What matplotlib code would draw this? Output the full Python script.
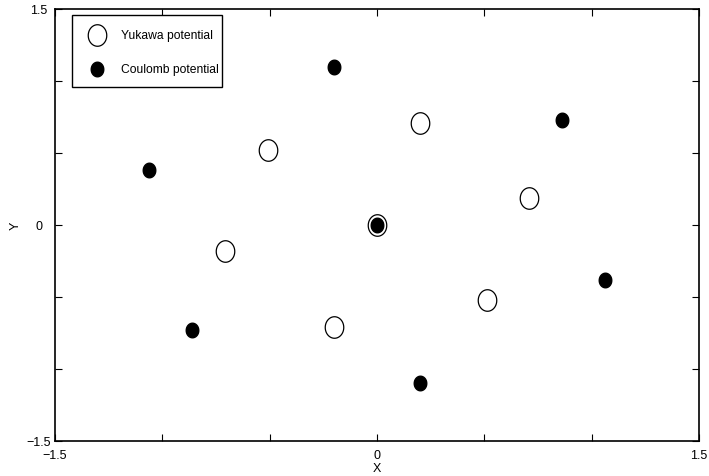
import numpy as np
import matplotlib
matplotlib.use("Agg")
import matplotlib.pyplot as plt
from matplotlib.path import Path
from matplotlib.patches import Rectangle

plt.rcParams['font.family'] = ['Liberation Sans', 'DejaVu Sans']

# Yukawa potential: inner ring plus centre
yukawa_x = [0.0, 0.20, -0.51, 0.71, -0.71, 0.51, -0.20]
yukawa_y = [0.0, 0.71, 0.52, 0.19, -0.18, -0.52, -0.71]

# Coulomb potential: outer ring plus centre
coulomb_x = [0.0, -0.20, 0.86, -1.06, 1.06, -0.86, 0.20]
coulomb_y = [0.0, 1.10, 0.73, 0.38, -0.38, -0.73, -1.10]

series_names = ['Yukawa potential', 'Coulomb potential']

tick_vals = [-1.5, -1.0, -0.5, 0.0, 0.5, 1.0, 1.5]
tick_labels = ['\u22121.5', '', '', '0', '', '', '1.5']

# slightly tall ellipse used as marker
t = np.linspace(0, 2 * np.pi, 60)
ell = Path(np.column_stack([0.86 * np.cos(t), np.sin(t)]), closed=True)

open_style = dict(linestyle='none', marker=ell, markersize=15.5,
                  markerfacecolor='white', markeredgecolor='black',
                  markeredgewidth=0.9)
full_style = dict(linestyle='none', marker=ell, markersize=10.5,
                  markerfacecolor='black', markeredgecolor='black')

fig = plt.figure(figsize=(7.09, 4.77), dpi=100)
ax = fig.add_axes([0.0776, 0.0734, 0.9084, 0.9057])

ax.plot(yukawa_x, yukawa_y, **open_style)
ax.plot(coulomb_x, coulomb_y, **full_style)

ax.set_xlim(-1.5, 1.5)
ax.set_ylim(-1.5, 1.5)
ax.set_xticks(tick_vals)
ax.set_xticklabels(tick_labels)
ax.set_yticks(tick_vals)
ax.set_yticklabels(tick_labels, ha='center')
ax.tick_params(direction='in', length=5, width=0.8, labelsize=9,
               top=True, right=True)
ax.tick_params(axis='x', pad=5.5)
ax.tick_params(axis='y', pad=11.5)
for sp in ax.spines.values():
    sp.set_linewidth(1.2)

ax.set_xlabel('X', fontsize=9, labelpad=1)
ax.set_ylabel('Y', fontsize=9, labelpad=3.5)

# legend box drawn by hand (axes coordinates) to get the wide row spacing
ax.add_patch(Rectangle((0.0264, 0.819), 0.2329, 0.167, transform=ax.transAxes,
                       facecolor='white', edgecolor='black', linewidth=1.0,
                       zorder=3))
rows_y = [0.940, 0.861]
for yy, name, style in zip(rows_y, series_names, [open_style, full_style]):
    ax.plot([0.0652], [yy], transform=ax.transAxes, zorder=4, **style)
    ax.text(0.1025, yy, name, transform=ax.transAxes, fontsize=8.7,
            va='center', ha='left', zorder=5)

fig.savefig('out.png', dpi=100)
